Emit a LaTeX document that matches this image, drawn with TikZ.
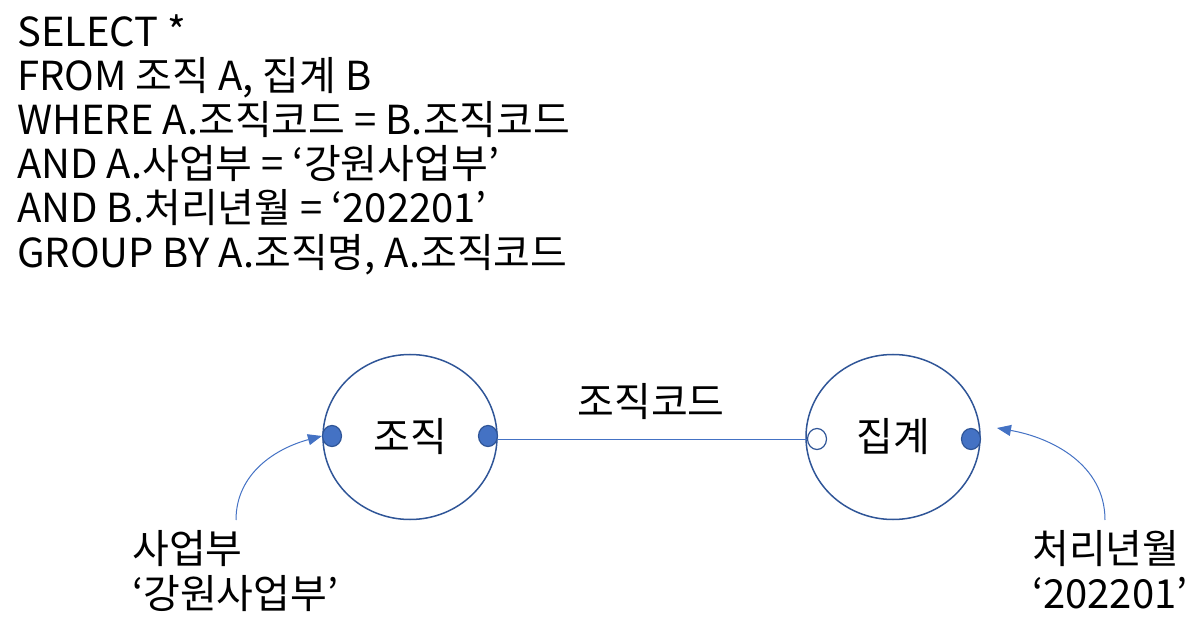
\documentclass[tikz,border=0pt]{standalone}
\usepackage{fontspec}
\setmainfont{Noto Sans CJK KR}
\usetikzlibrary{shapes.geometric,arrows.meta}
\definecolor{dkblue}{HTML}{2F5597}
\definecolor{ltblue}{HTML}{4472C4}
\begin{document}
\begin{tikzpicture}[x=1bp,y=-1bp,
  txt/.style={anchor=base west,inner sep=0pt,font=\fontsize{40bp}{44bp}\selectfont},
  ent/.style={ellipse,draw=dkblue,line width=1.5bp,minimum width=174bp,minimum height=165bp,inner sep=0pt,font=\fontsize{40bp}{44bp}\selectfont},
  fdot/.style={ellipse,draw=dkblue,fill=ltblue,line width=1.2bp,minimum width=19bp,minimum height=21bp,inner sep=0pt},
  odot/.style={ellipse,draw=dkblue,fill=white,line width=1.2bp,minimum width=19bp,minimum height=21bp,inner sep=0pt},
  conn/.style={draw=ltblue,line width=1bp},
  arr/.style={draw=ltblue,line width=1bp,-{Triangle[length=14bp,width=11bp]}},
  lab/.style={align=left,inner sep=0pt,font=\fontsize{40bp}{45bp}\selectfont}]
\useasboundingbox (0,0) rectangle (1196,627);
\node[txt] (l1) at (17,47) {SELECT *};
\node[txt] (l2) at (17,91) {FROM 조직 A, 집계 B};
\node[txt] (l3) at (17,135) {WHERE A.조직코드 = B.조직코드};
\node[txt] (l4) at (17,179) {AND A.사업부 = ‘강원사업부’};
\node[txt] (l5) at (17,223) {AND B.처리년월 = ‘202201’};
\node[txt] (l6) at (17,268) {GROUP BY A.조직명, A.조직코드};

\node[ent] (org) at (410,437) {조직};
\node[ent] (agg) at (893,437) {집계};
\node[fdot] (d1) at (332,436) {};
\node[fdot] (d2) at (488,436) {};
\node[odot] (d3) at (817,439) {};
\node[fdot] (d4) at (971,439) {};
\draw[conn] (d2.east |- 0,439) -- (d3.west);
\node[inner sep=0pt,font=\fontsize{40bp}{44bp}\selectfont] (code) at (651,402) {조직코드};

\node[lab,anchor=north west] (lab1) at (132,530) {사업부\\‘강원사업부’};
\node[lab,anchor=north west] (lab2) at (1032,530) {처리년월\\‘202201’};
\coordinate (s1) at (236,520);
\coordinate (s2) at (1105,520);
\coordinate (e2) at (997,428);
\draw[arr] (s1) to[out=90,in=195] (d1.west);
\draw[arr] (s2) to[out=90,in=-10] (e2);
\end{tikzpicture}
\end{document}
